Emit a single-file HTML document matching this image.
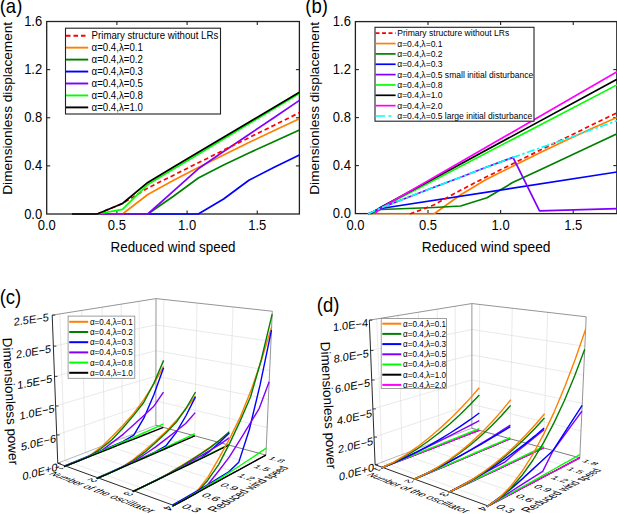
<!DOCTYPE html>
<html><head><meta charset="utf-8"><style>
html,body{margin:0;padding:0;background:#fff;width:617px;height:514px;overflow:hidden}
svg{display:block}
text{font-family:"Liberation Sans",sans-serif}
</style></head><body>
<svg width="617" height="514" viewBox="0 0 617 514" font-family="Liberation Sans, sans-serif">
<rect width="617" height="514" fill="#fff"/>
<rect x="46.7" y="21.5" width="252.7" height="192.5" fill="none" stroke="#222" stroke-width="1.3"/>
<line x1="116.89" y1="214.0" x2="116.89" y2="210.5" stroke="#222" stroke-width="1.1"/>
<line x1="116.89" y1="21.5" x2="116.89" y2="25.0" stroke="#222" stroke-width="1.1"/>
<line x1="187.09" y1="214.0" x2="187.09" y2="210.5" stroke="#222" stroke-width="1.1"/>
<line x1="187.09" y1="21.5" x2="187.09" y2="25.0" stroke="#222" stroke-width="1.1"/>
<line x1="257.28" y1="214.0" x2="257.28" y2="210.5" stroke="#222" stroke-width="1.1"/>
<line x1="257.28" y1="21.5" x2="257.28" y2="25.0" stroke="#222" stroke-width="1.1"/>
<line x1="46.7" y1="165.88" x2="50.2" y2="165.88" stroke="#222" stroke-width="1.1"/>
<line x1="299.4" y1="165.88" x2="295.9" y2="165.88" stroke="#222" stroke-width="1.1"/>
<line x1="46.7" y1="117.75" x2="50.2" y2="117.75" stroke="#222" stroke-width="1.1"/>
<line x1="299.4" y1="117.75" x2="295.9" y2="117.75" stroke="#222" stroke-width="1.1"/>
<line x1="46.7" y1="69.62" x2="50.2" y2="69.62" stroke="#222" stroke-width="1.1"/>
<line x1="299.4" y1="69.62" x2="295.9" y2="69.62" stroke="#222" stroke-width="1.1"/>
<text transform="translate(46.70,230.20) scale(1,1.07)" font-size="13" text-anchor="middle" fill="#000" >0.0</text>
<text transform="translate(116.89,230.20) scale(1,1.07)" font-size="13" text-anchor="middle" fill="#000" >0.5</text>
<text transform="translate(187.09,230.20) scale(1,1.07)" font-size="13" text-anchor="middle" fill="#000" >1.0</text>
<text transform="translate(257.28,230.20) scale(1,1.07)" font-size="13" text-anchor="middle" fill="#000" >1.5</text>
<text transform="translate(42.20,218.60) scale(1,1.07)" font-size="13" text-anchor="end" fill="#000" >0.0</text>
<text transform="translate(42.20,170.47) scale(1,1.07)" font-size="13" text-anchor="end" fill="#000" >0.4</text>
<text transform="translate(42.20,122.35) scale(1,1.07)" font-size="13" text-anchor="end" fill="#000" >0.8</text>
<text transform="translate(42.20,74.22) scale(1,1.07)" font-size="13" text-anchor="end" fill="#000" >1.2</text>
<text transform="translate(42.20,26.10) scale(1,1.07)" font-size="13" text-anchor="end" fill="#000" >1.6</text>
<text transform="translate(173.05,252.00) scale(1,1.07)" font-size="13.4" text-anchor="middle" fill="#000" >Reduced wind speed</text>
<text transform="translate(12.10,108.3) scale(1,1.07) rotate(-90)" font-size="12.76" text-anchor="middle">Dimensionless displacement</text>
<text transform="translate(-0.30,13.00) scale(1,1.07)" font-size="18.5" text-anchor="start" fill="#000" >(a)</text>
<clipPath id="ca"><rect x="46.7" y="21.5" width="252.7" height="193.5"/></clipPath>
<g clip-path="url(#ca)">
<polyline points="97.20,214.00 198.30,214.00 223.60,199.00 248.90,180.30 274.20,167.20 299.40,155.00" fill="none" stroke="#0000ff" stroke-width="1.7" stroke-linejoin="round" />
<polyline points="122.50,214.00 147.80,214.00 173.10,196.50 198.30,178.00 223.60,165.00 248.90,153.00 274.20,141.50 299.40,129.90" fill="none" stroke="#008000" stroke-width="1.7" stroke-linejoin="round" />
<polyline points="97.20,214.00 122.50,214.00 147.80,194.50 173.10,180.50 198.30,167.50 223.60,155.00 248.90,142.50 274.20,130.50 299.40,118.70" fill="none" stroke="#ff8000" stroke-width="1.7" stroke-linejoin="round" />
<polyline points="97.20,214.00 147.80,214.00 173.10,191.30 198.30,168.80 223.60,151.50 248.90,134.50 274.20,117.50 299.40,100.40" fill="none" stroke="#8000ff" stroke-width="1.7" stroke-linejoin="round" />
<polyline points="97.20,214.00 122.50,203.50 147.80,188.00 173.10,175.40 198.30,162.80 223.60,150.20 248.90,137.70 274.20,125.20 299.40,112.70" fill="none" stroke="#ff0000" stroke-width="1.7" stroke-linejoin="round" stroke-dasharray="4.5,3" />
<polyline points="97.20,214.00 122.50,209.30 147.80,184.40 173.10,169.30 198.30,154.20 223.60,139.00 248.90,123.80 274.20,108.60 299.40,93.50" fill="none" stroke="#00ff00" stroke-width="1.7" stroke-linejoin="round" />
<polyline points="72.00,214.00 97.20,214.00 122.50,203.50 147.80,182.40 173.10,167.30 198.30,152.20 223.60,137.20 248.90,122.20 274.20,107.20 299.40,92.30" fill="none" stroke="#000000" stroke-width="1.7" stroke-linejoin="round" />
</g>
<rect x="65.5" y="28.2" width="155" height="85.8" fill="#fff" stroke="#222" stroke-width="1.1"/>
<polyline points="66.00,35.70 88.20,35.70" fill="none" stroke="#ff0000" stroke-width="1.9" stroke-linejoin="round" stroke-dasharray="4.5,3" />
<text transform="translate(91.60,39.10) scale(1,1.07)" font-size="9.66" text-anchor="start" fill="#000" >Primary structure without LRs</text>
<polyline points="66.00,47.65 88.20,47.65" fill="none" stroke="#ff8000" stroke-width="1.9" stroke-linejoin="round" />
<text transform="translate(91.60,51.05) scale(1,1.07)" font-size="9.66" text-anchor="start" fill="#000" >α=0.4,λ=0.1</text>
<polyline points="66.00,59.60 88.20,59.60" fill="none" stroke="#008000" stroke-width="1.9" stroke-linejoin="round" />
<text transform="translate(91.60,63.00) scale(1,1.07)" font-size="9.66" text-anchor="start" fill="#000" >α=0.4,λ=0.2</text>
<polyline points="66.00,71.55 88.20,71.55" fill="none" stroke="#0000ff" stroke-width="1.9" stroke-linejoin="round" />
<text transform="translate(91.60,74.95) scale(1,1.07)" font-size="9.66" text-anchor="start" fill="#000" >α=0.4,λ=0.3</text>
<polyline points="66.00,83.50 88.20,83.50" fill="none" stroke="#8000ff" stroke-width="1.9" stroke-linejoin="round" />
<text transform="translate(91.60,86.90) scale(1,1.07)" font-size="9.66" text-anchor="start" fill="#000" >α=0.4,λ=0.5</text>
<polyline points="66.00,95.45 88.20,95.45" fill="none" stroke="#00ff00" stroke-width="1.9" stroke-linejoin="round" />
<text transform="translate(91.60,98.85) scale(1,1.07)" font-size="9.66" text-anchor="start" fill="#000" >α=0.4,λ=0.8</text>
<polyline points="66.00,107.40 88.20,107.40" fill="none" stroke="#000000" stroke-width="1.9" stroke-linejoin="round" />
<text transform="translate(91.60,110.80) scale(1,1.07)" font-size="9.66" text-anchor="start" fill="#000" >α=0.4,λ=1.0</text>
<rect x="355.4" y="21.6" width="261.4" height="192.0" fill="none" stroke="#222" stroke-width="1.3"/>
<line x1="428.01" y1="213.6" x2="428.01" y2="210.1" stroke="#222" stroke-width="1.1"/>
<line x1="428.01" y1="21.6" x2="428.01" y2="25.1" stroke="#222" stroke-width="1.1"/>
<line x1="500.62" y1="213.6" x2="500.62" y2="210.1" stroke="#222" stroke-width="1.1"/>
<line x1="500.62" y1="21.6" x2="500.62" y2="25.1" stroke="#222" stroke-width="1.1"/>
<line x1="573.23" y1="213.6" x2="573.23" y2="210.1" stroke="#222" stroke-width="1.1"/>
<line x1="573.23" y1="21.6" x2="573.23" y2="25.1" stroke="#222" stroke-width="1.1"/>
<line x1="355.4" y1="165.60" x2="358.9" y2="165.60" stroke="#222" stroke-width="1.1"/>
<line x1="616.8" y1="165.60" x2="613.3" y2="165.60" stroke="#222" stroke-width="1.1"/>
<line x1="355.4" y1="117.60" x2="358.9" y2="117.60" stroke="#222" stroke-width="1.1"/>
<line x1="616.8" y1="117.60" x2="613.3" y2="117.60" stroke="#222" stroke-width="1.1"/>
<line x1="355.4" y1="69.60" x2="358.9" y2="69.60" stroke="#222" stroke-width="1.1"/>
<line x1="616.8" y1="69.60" x2="613.3" y2="69.60" stroke="#222" stroke-width="1.1"/>
<text transform="translate(355.40,229.80) scale(1,1.07)" font-size="13" text-anchor="middle" fill="#000" >0.0</text>
<text transform="translate(428.01,229.80) scale(1,1.07)" font-size="13" text-anchor="middle" fill="#000" >0.5</text>
<text transform="translate(500.62,229.80) scale(1,1.07)" font-size="13" text-anchor="middle" fill="#000" >1.0</text>
<text transform="translate(573.23,229.80) scale(1,1.07)" font-size="13" text-anchor="middle" fill="#000" >1.5</text>
<text transform="translate(350.90,218.20) scale(1,1.07)" font-size="13" text-anchor="end" fill="#000" >0.0</text>
<text transform="translate(350.90,170.20) scale(1,1.07)" font-size="13" text-anchor="end" fill="#000" >0.4</text>
<text transform="translate(350.90,122.20) scale(1,1.07)" font-size="13" text-anchor="end" fill="#000" >0.8</text>
<text transform="translate(350.90,74.20) scale(1,1.07)" font-size="13" text-anchor="end" fill="#000" >1.2</text>
<text transform="translate(350.90,26.20) scale(1,1.07)" font-size="13" text-anchor="end" fill="#000" >1.6</text>
<text transform="translate(486.10,251.60) scale(1,1.07)" font-size="13.8" text-anchor="middle" fill="#000" >Reduced wind speed</text>
<text transform="translate(318.50,108.3) scale(1,1.07) rotate(-90)" font-size="12.76" text-anchor="middle">Dimensionless displacement</text>
<text transform="translate(305.30,13.00) scale(1,1.07)" font-size="18.5" text-anchor="start" fill="#000" >(b)</text>
<clipPath id="cb"><rect x="355.4" y="21.6" width="263.4" height="193.0"/></clipPath>
<g clip-path="url(#cb)">
<polyline points="370.00,214.00 433.80,214.00 460.00,195.30 486.10,179.60 512.20,166.50 538.40,153.50 564.50,141.00 590.70,129.00 616.80,117.50" fill="none" stroke="#ff8000" stroke-width="1.7" stroke-linejoin="round" />
<polyline points="368.00,214.00 380.80,209.50 433.80,207.50 460.60,206.00 487.00,197.80 512.60,182.60 538.70,170.40 564.80,158.20 590.90,146.00 617.00,133.70" fill="none" stroke="#008000" stroke-width="1.7" stroke-linejoin="round" />
<polyline points="368.00,214.00 380.80,208.50 617.00,172.00" fill="none" stroke="#0000ff" stroke-width="1.7" stroke-linejoin="round" />
<polyline points="410.00,214.00 433.80,205.00 460.00,190.50 486.10,177.00 512.20,164.00 538.40,151.00 564.50,138.50 590.70,125.50 616.80,112.90" fill="none" stroke="#ff0000" stroke-width="1.7" stroke-linejoin="round" stroke-dasharray="4.5,3" />
<polyline points="370.30,214.00 380.80,208.00 617.00,84.90" fill="none" stroke="#00ff00" stroke-width="1.7" stroke-linejoin="round" />
<polyline points="370.30,214.00 380.80,207.30 617.00,79.30" fill="none" stroke="#000000" stroke-width="1.7" stroke-linejoin="round" />
<polyline points="374.70,214.00 380.80,208.00 617.00,71.80" fill="none" stroke="#ff00ff" stroke-width="1.7" stroke-linejoin="round" />
<polyline points="368.00,214.00 380.80,208.00 430.00,188.70 460.00,177.50 486.10,167.30 513.00,157.40 539.50,210.90 617.00,208.70" fill="none" stroke="#8000ff" stroke-width="1.7" stroke-linejoin="round" />
<polyline points="368.00,214.00 380.80,208.00 430.00,188.70 460.00,177.50 486.10,167.30 513.00,157.40 538.40,148.50 564.50,139.50 590.70,130.00 617.00,120.70" fill="none" stroke="#00ffff" stroke-width="1.7" stroke-linejoin="round" stroke-dasharray="8,2.5,2.5,2.5" />
</g>
<rect x="375" y="27.3" width="159" height="93.9" fill="#fff" stroke="#222" stroke-width="1.1"/>
<polyline points="375.50,33.20 395.60,33.20" fill="none" stroke="#ff0000" stroke-width="1.7" stroke-linejoin="round" stroke-dasharray="4,2.5" />
<text transform="translate(397.20,36.20) scale(1,1.07)" font-size="8.55" text-anchor="start" fill="#000" >Primary structure without LRs</text>
<polyline points="375.50,43.55 395.60,43.55" fill="none" stroke="#ff8000" stroke-width="1.7" stroke-linejoin="round" />
<text transform="translate(397.20,46.55) scale(1,1.07)" font-size="8.55" text-anchor="start" fill="#000" >α=0.4,λ=0.1</text>
<polyline points="375.50,53.90 395.60,53.90" fill="none" stroke="#008000" stroke-width="1.7" stroke-linejoin="round" />
<text transform="translate(397.20,56.90) scale(1,1.07)" font-size="8.55" text-anchor="start" fill="#000" >α=0.4,λ=0.2</text>
<polyline points="375.50,64.25 395.60,64.25" fill="none" stroke="#0000ff" stroke-width="1.7" stroke-linejoin="round" />
<text transform="translate(397.20,67.25) scale(1,1.07)" font-size="8.55" text-anchor="start" fill="#000" >α=0.4,λ=0.3</text>
<polyline points="375.50,74.60 395.60,74.60" fill="none" stroke="#8000ff" stroke-width="1.7" stroke-linejoin="round" />
<text transform="translate(397.20,77.60) scale(1,1.07)" font-size="8.55" text-anchor="start" fill="#000" >α=0.4,λ=0.5 small initial disturbance</text>
<polyline points="375.50,84.95 395.60,84.95" fill="none" stroke="#00ff00" stroke-width="1.7" stroke-linejoin="round" />
<text transform="translate(397.20,87.95) scale(1,1.07)" font-size="8.55" text-anchor="start" fill="#000" >α=0.4,λ=0.8</text>
<polyline points="375.50,95.30 395.60,95.30" fill="none" stroke="#000000" stroke-width="1.7" stroke-linejoin="round" />
<text transform="translate(397.20,98.30) scale(1,1.07)" font-size="8.55" text-anchor="start" fill="#000" >α=0.4,λ=1.0</text>
<polyline points="375.50,105.65 395.60,105.65" fill="none" stroke="#ff00ff" stroke-width="1.7" stroke-linejoin="round" />
<text transform="translate(397.20,108.65) scale(1,1.07)" font-size="8.55" text-anchor="start" fill="#000" >α=0.4,λ=2.0</text>
<polyline points="375.50,116.00 395.60,116.00" fill="none" stroke="#00ffff" stroke-width="1.7" stroke-linejoin="round" stroke-dasharray="9.5,3.5,3,10" />
<text transform="translate(397.20,119.00) scale(1,1.07)" font-size="8.55" text-anchor="start" fill="#000" >α=0.4,λ=0.5 large initial disturbance</text>
<polyline points="64.90,460.46 59.80,313.92" fill="none" stroke="#dadada" stroke-width="0.6" stroke-linejoin="round" />
<polyline points="64.90,460.46 180.65,501.73" fill="none" stroke="#dadada" stroke-width="0.6" stroke-linejoin="round" />
<polyline points="85.39,452.55 81.60,310.45" fill="none" stroke="#dadada" stroke-width="0.6" stroke-linejoin="round" />
<polyline points="85.39,452.55 200.20,491.03" fill="none" stroke="#dadada" stroke-width="0.6" stroke-linejoin="round" />
<polyline points="104.63,445.12 102.01,307.21" fill="none" stroke="#dadada" stroke-width="0.6" stroke-linejoin="round" />
<polyline points="104.63,445.12 218.37,481.09" fill="none" stroke="#dadada" stroke-width="0.6" stroke-linejoin="round" />
<polyline points="122.72,438.13 121.13,304.16" fill="none" stroke="#dadada" stroke-width="0.6" stroke-linejoin="round" />
<polyline points="122.72,438.13 235.30,471.83" fill="none" stroke="#dadada" stroke-width="0.6" stroke-linejoin="round" />
<polyline points="139.78,431.55 139.10,301.30" fill="none" stroke="#dadada" stroke-width="0.6" stroke-linejoin="round" />
<polyline points="139.78,431.55 251.11,463.18" fill="none" stroke="#dadada" stroke-width="0.6" stroke-linejoin="round" />
<polyline points="163.36,427.36 163.87,299.47" fill="none" stroke="#dadada" stroke-width="0.6" stroke-linejoin="round" />
<polyline points="65.49,466.02 163.36,427.36" fill="none" stroke="#dadada" stroke-width="0.6" stroke-linejoin="round" />
<polyline points="194.82,435.86 196.99,303.06" fill="none" stroke="#dadada" stroke-width="0.6" stroke-linejoin="round" />
<polyline points="98.18,477.93 194.82,435.86" fill="none" stroke="#dadada" stroke-width="0.6" stroke-linejoin="round" />
<polyline points="228.89,445.07 233.00,306.96" fill="none" stroke="#dadada" stroke-width="0.6" stroke-linejoin="round" />
<polyline points="134.12,491.03 228.89,445.07" fill="none" stroke="#dadada" stroke-width="0.6" stroke-linejoin="round" />
<polyline points="56.70,434.92 155.90,400.95" fill="none" stroke="#dadada" stroke-width="0.6" stroke-linejoin="round" />
<polyline points="155.90,400.95 267.13,427.55" fill="none" stroke="#dadada" stroke-width="0.6" stroke-linejoin="round" />
<polyline points="55.61,405.99 155.92,376.10" fill="none" stroke="#dadada" stroke-width="0.6" stroke-linejoin="round" />
<polyline points="155.92,376.10 268.38,399.43" fill="none" stroke="#dadada" stroke-width="0.6" stroke-linejoin="round" />
<polyline points="54.50,376.40 155.95,350.77" fill="none" stroke="#dadada" stroke-width="0.6" stroke-linejoin="round" />
<polyline points="155.95,350.77 269.66,370.68" fill="none" stroke="#dadada" stroke-width="0.6" stroke-linejoin="round" />
<polyline points="53.36,346.12 155.98,324.95" fill="none" stroke="#dadada" stroke-width="0.6" stroke-linejoin="round" />
<polyline points="155.98,324.95 270.96,341.29" fill="none" stroke="#dadada" stroke-width="0.6" stroke-linejoin="round" />
<polyline points="52.19,315.13 156.01,298.61" fill="none" stroke="#7a7a7a" stroke-width="0.8" stroke-linejoin="round" />
<polyline points="156.01,298.61 272.30,311.22" fill="none" stroke="#7a7a7a" stroke-width="0.8" stroke-linejoin="round" />
<polyline points="156.01,298.61 155.87,425.34" fill="none" stroke="#8a8a8a" stroke-width="0.9" stroke-linejoin="round" />
<polyline points="272.30,311.22 265.91,455.08" fill="none" stroke="#7a7a7a" stroke-width="0.8" stroke-linejoin="round" />
<polyline points="57.77,463.21 155.87,425.34" fill="none" stroke="#9a9a9a" stroke-width="0.7" stroke-linejoin="round" />
<polyline points="155.87,425.34 265.91,455.08" fill="none" stroke="#5a5a5a" stroke-width="0.8" stroke-linejoin="round" />
<polyline points="57.77,463.21 52.19,315.13" fill="none" stroke="#111" stroke-width="0.9" stroke-linejoin="round" />
<polyline points="57.77,463.21 173.80,505.48" fill="none" stroke="#111" stroke-width="0.9" stroke-linejoin="round" />
<polyline points="173.80,505.48 265.91,455.08" fill="none" stroke="#111" stroke-width="0.9" stroke-linejoin="round" />
<polyline points="57.77,463.21 60.77,463.21" fill="none" stroke="#111" stroke-width="0.8" stroke-linejoin="round" />
<polyline points="56.70,434.92 59.70,434.92" fill="none" stroke="#111" stroke-width="0.8" stroke-linejoin="round" />
<polyline points="55.61,405.99 58.61,405.99" fill="none" stroke="#111" stroke-width="0.8" stroke-linejoin="round" />
<polyline points="54.50,376.40 57.50,376.40" fill="none" stroke="#111" stroke-width="0.8" stroke-linejoin="round" />
<polyline points="53.36,346.12 56.36,346.12" fill="none" stroke="#111" stroke-width="0.8" stroke-linejoin="round" />
<polyline points="52.19,315.13 55.19,315.13" fill="none" stroke="#111" stroke-width="0.8" stroke-linejoin="round" />
<rect x="68.1" y="316.1" width="66.70000000000002" height="62.19999999999999" fill="#fff" stroke="#888" stroke-width="0.8"/>
<polyline points="69.20,321.80 88.20,321.80" fill="none" stroke="#ff8000" stroke-width="2.0" stroke-linejoin="round" />
<text transform="translate(89.90,324.70) scale(1,1.07)" font-size="8.1" text-anchor="start" fill="#000" >α=0.4,λ=0.1</text>
<polyline points="69.20,332.00 88.20,332.00" fill="none" stroke="#008000" stroke-width="2.0" stroke-linejoin="round" />
<text transform="translate(89.90,334.90) scale(1,1.07)" font-size="8.1" text-anchor="start" fill="#000" >α=0.4,λ=0.2</text>
<polyline points="69.20,342.20 88.20,342.20" fill="none" stroke="#0000ff" stroke-width="2.0" stroke-linejoin="round" />
<text transform="translate(89.90,345.10) scale(1,1.07)" font-size="8.1" text-anchor="start" fill="#000" >α=0.4,λ=0.3</text>
<polyline points="69.20,352.40 88.20,352.40" fill="none" stroke="#8000ff" stroke-width="2.0" stroke-linejoin="round" />
<text transform="translate(89.90,355.30) scale(1,1.07)" font-size="8.1" text-anchor="start" fill="#000" >α=0.4,λ=0.5</text>
<polyline points="69.20,362.60 88.20,362.60" fill="none" stroke="#00ff00" stroke-width="2.0" stroke-linejoin="round" />
<text transform="translate(89.90,365.50) scale(1,1.07)" font-size="8.1" text-anchor="start" fill="#000" >α=0.4,λ=0.8</text>
<polyline points="69.20,372.80 88.20,372.80" fill="none" stroke="#000000" stroke-width="2.0" stroke-linejoin="round" />
<text transform="translate(89.90,375.70) scale(1,1.07)" font-size="8.1" text-anchor="start" fill="#000" >α=0.4,λ=1.0</text>
<polyline points="64.05,466.59 76.81,461.55 89.08,456.15 100.81,447.38 112.10,436.50 123.03,425.28 133.62,413.44 143.88,399.61 153.87,383.86 163.61,366.25" fill="none" stroke="#ff8000" stroke-width="1.4" stroke-linejoin="round" />
<polyline points="64.05,466.59 76.81,461.55 89.09,456.70 100.84,448.76 112.15,439.47 123.06,427.72 133.63,415.35 143.89,402.30 153.87,383.22 163.63,360.36" fill="none" stroke="#008000" stroke-width="1.4" stroke-linejoin="round" />
<polyline points="64.03,466.03 76.80,460.92 89.07,455.90 100.88,450.97 112.26,446.15 123.22,441.43 133.78,435.20 143.95,417.92 153.86,394.72 163.60,367.78" fill="none" stroke="#0000ff" stroke-width="1.4" stroke-linejoin="round" />
<polyline points="64.05,466.59 76.81,461.55 89.09,456.70 100.88,450.95 112.20,442.65 123.14,434.33 133.70,424.78 143.94,415.49 153.86,406.21 163.50,392.04" fill="none" stroke="#8000ff" stroke-width="1.4" stroke-linejoin="round" />
<polyline points="64.05,466.59 76.81,461.47 89.09,456.44 100.90,451.51 112.27,446.68 123.23,441.95 133.80,437.31 144.00,432.76 153.85,428.31 163.38,423.94" fill="none" stroke="#00ff00" stroke-width="1.4" stroke-linejoin="round" />
<polyline points="64.05,466.59 76.81,461.55 89.09,456.70 100.91,452.03 112.28,447.54 123.24,443.21 133.81,439.03 144.01,435.01 153.85,431.12 163.36,427.36" fill="none" stroke="#000000" stroke-width="1.4" stroke-linejoin="round" />
<polyline points="96.75,478.56 109.44,473.03 121.61,467.37 133.29,459.56 144.53,450.45 155.38,441.20 165.87,431.63 176.03,420.85 185.89,408.90 195.48,395.84" fill="none" stroke="#ff8000" stroke-width="1.4" stroke-linejoin="round" />
<polyline points="96.75,478.56 109.44,473.03 121.62,467.73 133.30,460.47 144.54,452.41 155.38,442.81 165.87,432.89 176.01,422.61 185.89,408.48 195.54,392.02" fill="none" stroke="#008000" stroke-width="1.4" stroke-linejoin="round" />
<polyline points="96.74,478.18 109.43,472.62 121.61,467.20 133.31,461.94 144.55,456.83 155.38,451.86 165.80,445.97 175.92,432.87 185.80,416.00 195.46,396.84" fill="none" stroke="#0000ff" stroke-width="1.4" stroke-linejoin="round" />
<polyline points="96.75,478.56 109.44,473.03 121.62,467.73 133.31,461.93 144.55,454.51 155.38,447.17 165.84,439.09 175.94,431.27 185.70,423.53 195.20,412.65" fill="none" stroke="#8000ff" stroke-width="1.4" stroke-linejoin="round" />
<polyline points="96.75,478.56 109.44,472.99 121.61,467.56 133.31,462.30 144.56,457.18 155.38,452.20 165.79,447.36 175.83,442.66 185.52,438.07 194.86,433.61" fill="none" stroke="#00ff00" stroke-width="1.4" stroke-linejoin="round" />
<polyline points="96.75,478.56 109.44,473.03 121.62,467.73 133.31,462.64 144.56,457.75 155.37,453.04 165.79,448.50 175.82,444.14 185.49,439.93 194.82,435.86" fill="none" stroke="#000000" stroke-width="1.4" stroke-linejoin="round" />
<polyline points="132.70,491.71 145.23,485.64 157.23,479.71 168.75,473.28 179.80,466.62 190.44,460.09 200.67,453.60 210.53,446.88 220.06,439.95 229.26,432.82" fill="none" stroke="#ff8000" stroke-width="1.4" stroke-linejoin="round" />
<polyline points="132.70,491.71 145.23,485.64 157.23,479.82 168.74,473.57 179.80,467.23 190.43,460.58 200.66,453.98 210.52,447.42 220.06,439.82 229.29,431.66" fill="none" stroke="#008000" stroke-width="1.4" stroke-linejoin="round" />
<polyline points="132.70,491.60 145.23,485.51 157.23,479.65 168.74,474.02 179.78,468.60 190.39,463.38 200.59,458.02 210.45,450.57 220.00,442.12 229.25,433.12" fill="none" stroke="#0000ff" stroke-width="1.4" stroke-linejoin="round" />
<polyline points="132.70,491.71 145.23,485.64 157.23,479.82 168.74,474.02 179.79,467.88 190.41,461.93 200.63,455.89 210.46,450.08 219.94,444.42 229.10,437.93" fill="none" stroke="#8000ff" stroke-width="1.4" stroke-linejoin="round" />
<polyline points="132.70,491.71 145.23,485.62 157.23,479.77 168.74,474.13 179.78,468.71 190.39,463.49 200.58,458.45 210.38,453.59 219.82,448.90 228.91,444.38" fill="none" stroke="#00ff00" stroke-width="1.4" stroke-linejoin="round" />
<polyline points="132.70,491.71 145.23,485.64 157.23,479.82 168.74,474.24 179.78,468.89 190.38,463.75 200.57,458.80 210.37,454.05 219.81,449.48 228.89,445.07" fill="none" stroke="#000000" stroke-width="1.4" stroke-linejoin="round" />
<polyline points="172.41,506.24 184.68,499.53 196.43,491.98 207.84,477.32 218.97,458.18 229.79,438.24 240.35,416.83 250.80,391.11 261.20,361.10 271.61,326.84" fill="none" stroke="#ff8000" stroke-width="1.4" stroke-linejoin="round" />
<polyline points="172.41,506.24 184.68,499.53 196.41,493.11 207.78,480.18 218.81,464.38 229.63,443.33 240.21,420.86 250.59,396.79 261.26,359.73 272.17,314.13" fill="none" stroke="#008000" stroke-width="1.4" stroke-linejoin="round" />
<polyline points="172.42,505.06 184.70,498.22 196.44,491.45 207.68,484.78 218.45,478.22 228.78,471.78 238.81,462.14 249.36,429.53 260.25,384.15 271.46,330.13" fill="none" stroke="#0000ff" stroke-width="1.4" stroke-linejoin="round" />
<polyline points="172.41,506.24 184.68,499.53 196.41,493.11 207.68,484.74 218.64,470.98 229.22,457.09 239.55,440.56 249.55,424.47 259.26,408.31 269.16,381.77" fill="none" stroke="#8000ff" stroke-width="1.4" stroke-linejoin="round" />
<polyline points="172.41,506.24 184.68,499.37 196.42,492.58 207.65,485.89 218.42,479.32 228.75,472.85 238.67,466.50 248.20,460.26 257.38,454.12 266.22,448.08" fill="none" stroke="#00ff00" stroke-width="1.4" stroke-linejoin="round" />
<polyline points="172.41,506.24 184.68,499.53 196.41,493.11 207.63,486.97 218.37,481.09 228.67,475.46 238.55,470.05 248.03,464.86 257.14,459.87 265.91,455.08" fill="none" stroke="#000000" stroke-width="1.4" stroke-linejoin="round" />
<text transform="translate(40.0,471.6) skewY(-16.0)" font-size="11" text-anchor="middle" y="3.9">0.0E+0</text>
<text transform="translate(38.5,442.5) skewY(-14.4)" font-size="11" text-anchor="middle" y="3.9">5.0E−6</text>
<text transform="translate(37.0,412.1) skewY(-12.8)" font-size="11" text-anchor="middle" y="3.9">1.0E−5</text>
<text transform="translate(34.9,381.8) skewY(-11.2)" font-size="11" text-anchor="middle" y="3.9">1.5E−5</text>
<text transform="translate(33.6,351.6) skewY(-9.6)" font-size="11" text-anchor="middle" y="3.9">2.0E−5</text>
<text transform="translate(31.2,319.5) skewY(-8.0)" font-size="11" text-anchor="middle" y="3.9">2.5E−5</text>
<text transform="translate(-0.30,304.40) scale(1,1.07)" font-size="18.5" text-anchor="start" fill="#000" >(c)</text>
<text transform="translate(2.5,338.0) rotate(87)" font-size="13.4">Dimensionless power</text>
<text transform="matrix(-0.9543,0.3737,-0.8251,-0.3034,59.47,466.12)" font-size="10" fill="#000">1</text>
<text transform="matrix(-0.9499,0.4095,-0.9049,-0.3327,91.89,478.04)" font-size="10" fill="#000">2</text>
<text transform="matrix(-0.9399,0.4508,-0.9968,-0.3665,127.53,491.15)" font-size="10" fill="#000">3</text>
<text transform="matrix(-0.9225,0.4987,-1.1035,-0.4057,166.89,505.62)" font-size="10" fill="#000">4</text>
<text transform="matrix(1.1284,0.4100,-0.9042,0.5039,180.56,507.13)" font-size="10" fill="#000">0</text>
<text transform="matrix(1.1462,0.4164,-0.9005,0.5118,186.89,509.43)" font-size="10" fill="#000">.</text>
<text transform="matrix(1.1552,0.4197,-0.8985,0.5158,190.08,510.59)" font-size="10" fill="#000">3</text>
<text transform="matrix(1.1131,0.3798,-0.8380,0.4670,200.47,496.04)" font-size="10" fill="#000">0</text>
<text transform="matrix(1.1300,0.3855,-0.8340,0.4740,206.70,498.17)" font-size="10" fill="#000">.</text>
<text transform="matrix(1.1385,0.3884,-0.8320,0.4776,209.85,499.24)" font-size="10" fill="#000">6</text>
<text transform="matrix(1.0970,0.3528,-0.7788,0.4340,218.94,485.75)" font-size="10" fill="#000">0</text>
<text transform="matrix(1.1130,0.3579,-0.7747,0.4403,225.08,487.72)" font-size="10" fill="#000">.</text>
<text transform="matrix(1.1211,0.3605,-0.7726,0.4435,228.19,488.72)" font-size="10" fill="#000">9</text>
<text transform="matrix(1.0805,0.3285,-0.7256,0.4044,236.13,476.17)" font-size="10" fill="#000">1</text>
<text transform="matrix(1.0957,0.3331,-0.7215,0.4100,242.18,478.01)" font-size="10" fill="#000">.</text>
<text transform="matrix(1.1034,0.3355,-0.7193,0.4129,245.23,478.94)" font-size="10" fill="#000">2</text>
<text transform="matrix(1.0636,0.3067,-0.6778,0.3777,252.16,467.23)" font-size="10" fill="#000">1</text>
<text transform="matrix(1.0781,0.3108,-0.6735,0.3828,258.12,468.95)" font-size="10" fill="#000">.</text>
<text transform="matrix(1.0854,0.3130,-0.6714,0.3854,261.12,469.81)" font-size="10" fill="#000">5</text>
<text transform="matrix(1.0466,0.2869,-0.6345,0.3536,267.16,458.87)" font-size="10" fill="#000">1</text>
<text transform="matrix(1.0604,0.2907,-0.6302,0.3582,273.02,460.48)" font-size="10" fill="#000">.</text>
<text transform="matrix(1.0673,0.2926,-0.6281,0.3605,275.97,461.29)" font-size="10" fill="#000">8</text>
<text transform="matrix(0.8375,0.3230,-1.0013,0.3977,48.35,474.23)" font-size="10" fill="#000">N</text>
<text transform="matrix(0.8527,0.3289,-1.0011,0.4049,54.45,476.58)" font-size="10" fill="#000">u</text>
<text transform="matrix(0.8647,0.3335,-1.0008,0.4105,59.23,478.43)" font-size="10" fill="#000">m</text>
<text transform="matrix(0.8832,0.3406,-1.0002,0.4192,66.51,481.23)" font-size="10" fill="#000">b</text>
<text transform="matrix(0.8958,0.3455,-0.9996,0.4252,71.45,483.14)" font-size="10" fill="#000">e</text>
<text transform="matrix(0.9087,0.3505,-0.9989,0.4312,76.47,485.08)" font-size="10" fill="#000">r</text>
<text transform="matrix(0.9232,0.3561,-0.9980,0.4381,82.06,487.24)" font-size="10" fill="#000">o</text>
<text transform="matrix(0.9367,0.3613,-0.9971,0.4445,87.24,489.23)" font-size="10" fill="#000">f</text>
<text transform="matrix(0.9505,0.3666,-0.9960,0.4510,92.48,491.25)" font-size="10" fill="#000">t</text>
<text transform="matrix(0.9575,0.3693,-0.9954,0.4543,95.13,492.28)" font-size="10" fill="#000">h</text>
<text transform="matrix(0.9718,0.3748,-0.9941,0.4610,100.49,494.35)" font-size="10" fill="#000">e</text>
<text transform="matrix(0.9938,0.3833,-0.9919,0.4714,108.69,497.51)" font-size="10" fill="#000">o</text>
<text transform="matrix(1.0089,0.3892,-0.9902,0.4785,114.26,499.65)" font-size="10" fill="#000">s</text>
<text transform="matrix(1.0228,0.3945,-0.9885,0.4850,119.34,501.61)" font-size="10" fill="#000">c</text>
<text transform="matrix(1.0370,0.4000,-0.9867,0.4917,124.49,503.60)" font-size="10" fill="#000">i</text>
<text transform="matrix(1.0434,0.4024,-0.9859,0.4947,126.80,504.49)" font-size="10" fill="#000">l</text>
<text transform="matrix(1.0498,0.4049,-0.9850,0.4977,129.12,505.39)" font-size="10" fill="#000">l</text>
<text transform="matrix(1.0563,0.4074,-0.9841,0.5008,131.46,506.29)" font-size="10" fill="#000">a</text>
<text transform="matrix(1.0729,0.4138,-0.9817,0.5086,137.38,508.57)" font-size="10" fill="#000">t</text>
<text transform="matrix(1.0813,0.4171,-0.9804,0.5126,140.38,509.73)" font-size="10" fill="#000">o</text>
<text transform="matrix(1.0984,0.4237,-0.9777,0.5206,146.44,512.07)" font-size="10" fill="#000">r</text>
<text transform="matrix(0.9239,-0.5608,1.2866,0.4564,215.34,512.53)" font-size="10" fill="#000">R</text>
<text transform="matrix(0.8997,-0.5461,1.2795,0.4443,221.92,508.53)" font-size="10" fill="#000">e</text>
<text transform="matrix(0.8817,-0.5352,1.2740,0.4354,226.88,505.52)" font-size="10" fill="#000">d</text>
<text transform="matrix(0.8642,-0.5245,1.2685,0.4267,231.73,502.58)" font-size="10" fill="#000">u</text>
<text transform="matrix(0.8472,-0.5142,1.2629,0.4182,236.49,499.69)" font-size="10" fill="#000">c</text>
<text transform="matrix(0.8324,-0.5052,1.2579,0.4109,240.69,497.14)" font-size="10" fill="#000">e</text>
<text transform="matrix(0.8163,-0.4955,1.2523,0.4029,245.27,494.36)" font-size="10" fill="#000">d</text>
<text transform="matrix(0.7931,-0.4814,1.2439,0.3914,251.98,490.28)" font-size="10" fill="#000">w</text>
<text transform="matrix(0.7738,-0.4697,1.2366,0.3818,257.64,486.85)" font-size="10" fill="#000">i</text>
<text transform="matrix(0.7680,-0.4662,1.2343,0.3789,259.36,485.81)" font-size="10" fill="#000">n</text>
<text transform="matrix(0.7538,-0.4575,1.2287,0.3718,263.59,483.24)" font-size="10" fill="#000">d</text>
<text transform="matrix(0.7332,-0.4450,1.2202,0.3616,269.79,479.48)" font-size="10" fill="#000">s</text>
<text transform="matrix(0.7212,-0.4378,1.2151,0.3556,273.42,477.27)" font-size="10" fill="#000">p</text>
<text transform="matrix(0.7083,-0.4299,1.2095,0.3492,277.40,474.86)" font-size="10" fill="#000">e</text>
<text transform="matrix(0.6957,-0.4223,1.2038,0.3429,281.30,472.49)" font-size="10" fill="#000">e</text>
<text transform="matrix(0.6834,-0.4148,1.1982,0.3369,285.14,470.16)" font-size="10" fill="#000">d</text>
<polyline points="382.10,462.07 376.79,318.93" fill="none" stroke="#dadada" stroke-width="0.6" stroke-linejoin="round" />
<polyline points="382.10,462.07 494.93,502.45" fill="none" stroke="#dadada" stroke-width="0.6" stroke-linejoin="round" />
<polyline points="402.20,454.49 398.23,315.46" fill="none" stroke="#dadada" stroke-width="0.6" stroke-linejoin="round" />
<polyline points="402.20,454.49 514.25,492.29" fill="none" stroke="#dadada" stroke-width="0.6" stroke-linejoin="round" />
<polyline points="421.13,447.36 418.35,312.21" fill="none" stroke="#dadada" stroke-width="0.6" stroke-linejoin="round" />
<polyline points="421.13,447.36 532.28,482.81" fill="none" stroke="#dadada" stroke-width="0.6" stroke-linejoin="round" />
<polyline points="438.99,440.63 437.27,309.15" fill="none" stroke="#dadada" stroke-width="0.6" stroke-linejoin="round" />
<polyline points="438.99,440.63 549.14,473.95" fill="none" stroke="#dadada" stroke-width="0.6" stroke-linejoin="round" />
<polyline points="455.87,434.27 455.09,306.27" fill="none" stroke="#dadada" stroke-width="0.6" stroke-linejoin="round" />
<polyline points="455.87,434.27 564.94,465.65" fill="none" stroke="#dadada" stroke-width="0.6" stroke-linejoin="round" />
<polyline points="479.21,430.27 479.65,304.45" fill="none" stroke="#dadada" stroke-width="0.6" stroke-linejoin="round" />
<polyline points="382.67,467.46 479.21,430.27" fill="none" stroke="#dadada" stroke-width="0.6" stroke-linejoin="round" />
<polyline points="510.12,438.75 512.26,308.22" fill="none" stroke="#dadada" stroke-width="0.6" stroke-linejoin="round" />
<polyline points="414.62,479.13 510.12,438.75" fill="none" stroke="#dadada" stroke-width="0.6" stroke-linejoin="round" />
<polyline points="543.54,447.91 547.65,312.32" fill="none" stroke="#dadada" stroke-width="0.6" stroke-linejoin="round" />
<polyline points="449.64,491.92 543.54,447.91" fill="none" stroke="#dadada" stroke-width="0.6" stroke-linejoin="round" />
<polyline points="374.01,437.12 471.85,404.30" fill="none" stroke="#dadada" stroke-width="0.6" stroke-linejoin="round" />
<polyline points="471.85,404.30 581.00,430.91" fill="none" stroke="#dadada" stroke-width="0.6" stroke-linejoin="round" />
<polyline points="372.89,408.90 471.86,379.86" fill="none" stroke="#dadada" stroke-width="0.6" stroke-linejoin="round" />
<polyline points="471.86,379.86 582.26,403.35" fill="none" stroke="#dadada" stroke-width="0.6" stroke-linejoin="round" />
<polyline points="371.73,380.01 471.87,354.94" fill="none" stroke="#dadada" stroke-width="0.6" stroke-linejoin="round" />
<polyline points="471.87,354.94 583.54,375.16" fill="none" stroke="#dadada" stroke-width="0.6" stroke-linejoin="round" />
<polyline points="370.54,350.43 471.89,329.51" fill="none" stroke="#dadada" stroke-width="0.6" stroke-linejoin="round" />
<polyline points="471.89,329.51 584.86,346.32" fill="none" stroke="#dadada" stroke-width="0.6" stroke-linejoin="round" />
<polyline points="369.33,320.14 471.90,303.55" fill="none" stroke="#7a7a7a" stroke-width="0.8" stroke-linejoin="round" />
<polyline points="471.90,303.55 586.20,316.79" fill="none" stroke="#7a7a7a" stroke-width="0.8" stroke-linejoin="round" />
<polyline points="471.90,303.55 471.84,428.25" fill="none" stroke="#8a8a8a" stroke-width="0.9" stroke-linejoin="round" />
<polyline points="586.20,316.79 579.77,457.85" fill="none" stroke="#7a7a7a" stroke-width="0.8" stroke-linejoin="round" />
<polyline points="375.12,464.70 471.84,428.25" fill="none" stroke="#9a9a9a" stroke-width="0.7" stroke-linejoin="round" />
<polyline points="471.84,428.25 579.77,457.85" fill="none" stroke="#5a5a5a" stroke-width="0.8" stroke-linejoin="round" />
<polyline points="375.12,464.70 369.33,320.14" fill="none" stroke="#111" stroke-width="0.9" stroke-linejoin="round" />
<polyline points="375.12,464.70 488.17,506.00" fill="none" stroke="#111" stroke-width="0.9" stroke-linejoin="round" />
<polyline points="488.17,506.00 579.77,457.85" fill="none" stroke="#111" stroke-width="0.9" stroke-linejoin="round" />
<polyline points="375.12,464.70 378.12,464.70" fill="none" stroke="#111" stroke-width="0.8" stroke-linejoin="round" />
<polyline points="374.01,437.12 377.01,437.12" fill="none" stroke="#111" stroke-width="0.8" stroke-linejoin="round" />
<polyline points="372.89,408.90 375.89,408.90" fill="none" stroke="#111" stroke-width="0.8" stroke-linejoin="round" />
<polyline points="371.73,380.01 374.73,380.01" fill="none" stroke="#111" stroke-width="0.8" stroke-linejoin="round" />
<polyline points="370.54,350.43 373.54,350.43" fill="none" stroke="#111" stroke-width="0.8" stroke-linejoin="round" />
<polyline points="369.33,320.14 372.33,320.14" fill="none" stroke="#111" stroke-width="0.8" stroke-linejoin="round" />
<rect x="381.2" y="318.4" width="65.30000000000001" height="70.20000000000005" fill="#fff" stroke="#888" stroke-width="0.8"/>
<polyline points="382.30,323.70 401.30,323.70" fill="none" stroke="#ff8000" stroke-width="2.0" stroke-linejoin="round" />
<text transform="translate(403.00,326.60) scale(1,1.07)" font-size="8.1" text-anchor="start" fill="#000" >α=0.4,λ=0.1</text>
<polyline points="382.30,333.90 401.30,333.90" fill="none" stroke="#008000" stroke-width="2.0" stroke-linejoin="round" />
<text transform="translate(403.00,336.80) scale(1,1.07)" font-size="8.1" text-anchor="start" fill="#000" >α=0.4,λ=0.2</text>
<polyline points="382.30,344.10 401.30,344.10" fill="none" stroke="#0000ff" stroke-width="2.0" stroke-linejoin="round" />
<text transform="translate(403.00,347.00) scale(1,1.07)" font-size="8.1" text-anchor="start" fill="#000" >α=0.4,λ=0.3</text>
<polyline points="382.30,354.30 401.30,354.30" fill="none" stroke="#8000ff" stroke-width="2.0" stroke-linejoin="round" />
<text transform="translate(403.00,357.20) scale(1,1.07)" font-size="8.1" text-anchor="start" fill="#000" >α=0.4,λ=0.5</text>
<polyline points="382.30,364.50 401.30,364.50" fill="none" stroke="#00ff00" stroke-width="2.0" stroke-linejoin="round" />
<text transform="translate(403.00,367.40) scale(1,1.07)" font-size="8.1" text-anchor="start" fill="#000" >α=0.4,λ=0.8</text>
<polyline points="382.30,374.70 401.30,374.70" fill="none" stroke="#000000" stroke-width="2.0" stroke-linejoin="round" />
<text transform="translate(403.00,377.60) scale(1,1.07)" font-size="8.1" text-anchor="start" fill="#000" >α=0.4,λ=1.0</text>
<polyline points="382.30,384.90 401.30,384.90" fill="none" stroke="#ff00ff" stroke-width="2.0" stroke-linejoin="round" />
<text transform="translate(403.00,387.80) scale(1,1.07)" font-size="8.1" text-anchor="start" fill="#000" >α=0.4,λ=2.0</text>
<polyline points="381.26,468.00 393.77,463.18 405.82,458.54 417.43,454.07 428.64,449.75 439.46,445.59 449.90,441.56 460.00,437.67 469.76,433.91 479.21,430.27" fill="none" stroke="#000000" stroke-width="1.4" stroke-linejoin="round" />
<polyline points="381.26,468.00 393.77,463.18 405.82,458.54 417.43,454.07 428.64,449.75 439.46,445.59 449.90,441.56 460.00,437.67 469.76,433.91 479.21,430.27" fill="none" stroke="#ff00ff" stroke-width="1.4" stroke-linejoin="round" />
<polyline points="381.26,468.00 393.76,462.97 405.81,458.13 417.42,453.46 428.63,448.95 439.44,444.60 449.89,440.39 459.99,436.33 469.76,432.40 479.21,428.60" fill="none" stroke="#00ff00" stroke-width="1.4" stroke-linejoin="round" />
<polyline points="381.26,468.00 393.75,462.68 405.78,457.24 417.38,451.81 428.58,446.43 439.40,441.11 449.85,435.87 459.97,430.72 469.76,425.65 479.24,420.67" fill="none" stroke="#8000ff" stroke-width="1.4" stroke-linejoin="round" />
<polyline points="381.26,468.00 393.76,462.89 405.79,457.45 417.38,451.74 428.57,445.79 439.38,439.62 449.83,433.25 459.95,426.69 469.76,419.95 479.27,413.05" fill="none" stroke="#0000ff" stroke-width="1.4" stroke-linejoin="round" />
<polyline points="381.26,468.00 393.74,462.43 405.75,455.96 417.32,448.79 428.49,441.02 439.29,432.72 449.75,423.94 459.90,414.72 469.75,405.09 479.33,395.08" fill="none" stroke="#008000" stroke-width="1.4" stroke-linejoin="round" />
<polyline points="381.26,468.00 393.73,462.05 405.72,454.92 417.28,446.95 428.44,438.31 439.24,429.09 449.71,419.37 459.87,409.20 469.75,398.62 479.36,387.67" fill="none" stroke="#ff8000" stroke-width="1.4" stroke-linejoin="round" />
<polyline points="413.22,479.73 425.66,474.46 437.63,469.40 449.15,464.53 460.25,459.84 470.95,455.31 481.26,450.95 491.22,446.74 500.83,442.68 510.12,438.75" fill="none" stroke="#000000" stroke-width="1.4" stroke-linejoin="round" />
<polyline points="413.22,479.73 425.66,474.46 437.63,469.40 449.15,464.53 460.25,459.84 470.95,455.31 481.26,450.95 491.22,446.74 500.83,442.68 510.12,438.75" fill="none" stroke="#ff00ff" stroke-width="1.4" stroke-linejoin="round" />
<polyline points="413.22,479.73 425.66,474.34 437.63,469.15 449.15,464.17 460.25,459.36 470.95,454.73 481.27,450.26 491.23,445.95 500.84,441.78 510.14,437.76" fill="none" stroke="#00ff00" stroke-width="1.4" stroke-linejoin="round" />
<polyline points="413.22,479.73 425.65,474.00 437.61,468.03 449.13,461.94 460.23,455.80 470.95,449.64 481.30,443.47 491.30,437.31 500.98,431.17 510.35,425.05" fill="none" stroke="#8000ff" stroke-width="1.4" stroke-linejoin="round" />
<polyline points="413.22,479.73 425.65,473.96 437.61,467.99 449.13,461.98 460.24,455.98 470.95,450.01 481.29,444.08 491.29,438.21 500.96,432.41 510.32,426.68" fill="none" stroke="#0000ff" stroke-width="1.4" stroke-linejoin="round" />
<polyline points="413.22,479.73 425.65,474.00 437.61,467.58 449.12,460.49 460.22,452.77 470.95,444.44 481.33,435.51 491.40,426.01 501.17,415.96 510.67,405.36" fill="none" stroke="#008000" stroke-width="1.4" stroke-linejoin="round" />
<polyline points="413.22,479.73 425.65,473.92 437.60,467.27 449.11,459.81 460.22,451.57 470.95,442.59 481.34,432.88 491.43,422.47 501.22,411.38 510.76,399.61" fill="none" stroke="#ff8000" stroke-width="1.4" stroke-linejoin="round" />
<polyline points="448.24,492.58 460.56,486.80 472.38,481.26 483.75,475.94 494.67,470.82 505.18,465.89 515.30,461.15 525.06,456.57 534.46,452.17 543.54,447.91" fill="none" stroke="#000000" stroke-width="1.4" stroke-linejoin="round" />
<polyline points="448.24,492.58 460.56,486.80 472.38,481.26 483.75,475.94 494.67,470.82 505.18,465.89 515.30,461.15 525.06,456.57 534.46,452.17 543.54,447.91" fill="none" stroke="#ff00ff" stroke-width="1.4" stroke-linejoin="round" />
<polyline points="448.24,492.58 460.56,486.61 472.38,480.88 483.75,475.37 494.68,470.07 505.19,464.98 515.32,460.07 525.08,455.34 534.50,450.77 543.58,446.37" fill="none" stroke="#00ff00" stroke-width="1.4" stroke-linejoin="round" />
<polyline points="448.24,492.58 460.56,485.92 472.39,479.53 483.76,473.38 494.70,467.47 505.24,461.77 515.46,452.82 525.32,444.89 534.86,437.22 544.09,429.81" fill="none" stroke="#8000ff" stroke-width="1.4" stroke-linejoin="round" />
<polyline points="448.24,492.58 460.56,486.37 472.39,479.79 483.76,472.93 494.72,465.85 505.29,458.59 515.49,451.17 525.35,443.60 534.89,435.92 544.14,428.11" fill="none" stroke="#0000ff" stroke-width="1.4" stroke-linejoin="round" />
<polyline points="448.24,492.58 460.56,486.39 472.39,479.62 483.77,472.31 494.73,464.47 505.32,456.12 515.56,447.29 525.48,437.99 535.10,428.23 544.44,418.03" fill="none" stroke="#008000" stroke-width="1.4" stroke-linejoin="round" />
<polyline points="448.24,492.58 460.56,486.33 472.39,479.39 483.77,471.79 494.74,463.55 505.34,454.72 515.60,445.29 525.54,435.30 535.19,424.76 544.58,413.68" fill="none" stroke="#ff8000" stroke-width="1.4" stroke-linejoin="round" />
<polyline points="486.80,506.72 498.90,500.36 510.50,494.27 521.61,488.42 532.28,482.81 542.53,477.43 552.38,472.25 561.86,467.27 570.98,462.47 579.77,457.85" fill="none" stroke="#000000" stroke-width="1.4" stroke-linejoin="round" />
<polyline points="486.80,506.72 498.90,500.36 510.50,494.27 521.61,488.42 532.28,482.81 542.53,477.43 552.38,472.25 561.86,467.27 570.98,462.47 579.77,457.85" fill="none" stroke="#ff00ff" stroke-width="1.4" stroke-linejoin="round" />
<polyline points="486.80,506.72 498.91,499.95 510.51,493.47 521.64,487.24 532.32,481.27 542.59,475.53 552.46,470.00 561.96,464.69 571.10,459.58 579.92,454.65" fill="none" stroke="#00ff00" stroke-width="1.4" stroke-linejoin="round" />
<polyline points="486.80,506.72 498.92,499.07 510.54,491.74 521.69,484.70 532.41,477.93 542.71,471.43 553.13,450.48 563.01,437.00 572.60,423.94 581.89,411.27" fill="none" stroke="#8000ff" stroke-width="1.4" stroke-linejoin="round" />
<polyline points="486.80,506.72 498.93,497.81 510.58,489.25 521.81,479.37 532.63,469.38 543.06,459.76 553.13,450.48 563.09,434.98 572.77,419.92 582.17,405.30" fill="none" stroke="#0000ff" stroke-width="1.4" stroke-linejoin="round" />
<polyline points="486.80,506.72 498.92,498.89 510.59,488.46 521.89,475.55 532.87,460.25 543.58,442.61 554.08,422.67 564.41,400.46 574.61,375.98 584.72,349.23" fill="none" stroke="#008000" stroke-width="1.4" stroke-linejoin="round" />
<polyline points="486.80,506.72 498.93,498.20 510.63,486.33 521.98,471.52 533.03,454.00 543.85,433.90 554.47,411.33 564.95,386.35 575.33,359.00 585.63,329.28" fill="none" stroke="#ff8000" stroke-width="1.4" stroke-linejoin="round" />
<text transform="translate(356.5,472.0) skewY(-16.0)" font-size="11" text-anchor="middle" y="3.9">0.0E+0</text>
<text transform="translate(355.6,445.2) skewY(-14.4)" font-size="11" text-anchor="middle" y="3.9">2.0E−5</text>
<text transform="translate(354.5,417.0) skewY(-12.8)" font-size="11" text-anchor="middle" y="3.9">4.0E−5</text>
<text transform="translate(352.5,385.8) skewY(-11.2)" font-size="11" text-anchor="middle" y="3.9">6.0E−5</text>
<text transform="translate(351.2,356.0) skewY(-9.6)" font-size="11" text-anchor="middle" y="3.9">8.0E−5</text>
<text transform="translate(350.5,325.0) skewY(-8.0)" font-size="11" text-anchor="middle" y="3.9">1.0E−4</text>
<text transform="translate(316.80,312.40) scale(1,1.07)" font-size="18.5" text-anchor="start" fill="#000" >(d)</text>
<text transform="translate(320.5,342.0) rotate(87)" font-size="13.4">Dimensionless power</text>
<text transform="matrix(-0.9334,0.3565,-0.8075,-0.2976,376.79,467.53)" font-size="10" fill="#000">1</text>
<text transform="matrix(-0.9303,0.3897,-0.8831,-0.3255,408.47,479.20)" font-size="10" fill="#000">2</text>
<text transform="matrix(-0.9223,0.4278,-0.9698,-0.3575,443.20,492.00)" font-size="10" fill="#000">3</text>
<text transform="matrix(-0.9079,0.4718,-1.0700,-0.3944,481.42,506.09)" font-size="10" fill="#000">4</text>
<text transform="matrix(1.0936,0.3985,-0.8913,0.4767,494.74,507.62)" font-size="10" fill="#000">0</text>
<text transform="matrix(1.1102,0.4046,-0.8882,0.4839,500.87,509.85)" font-size="10" fill="#000">.</text>
<text transform="matrix(1.1186,0.4076,-0.8865,0.4876,503.96,510.98)" font-size="10" fill="#000">3</text>
<text transform="matrix(1.0806,0.3707,-0.8295,0.4436,514.40,497.10)" font-size="10" fill="#000">0</text>
<text transform="matrix(1.0964,0.3762,-0.8261,0.4501,520.46,499.18)" font-size="10" fill="#000">.</text>
<text transform="matrix(1.1044,0.3789,-0.8244,0.4534,523.51,500.23)" font-size="10" fill="#000">6</text>
<text transform="matrix(1.0668,0.3458,-0.7739,0.4139,532.72,487.31)" font-size="10" fill="#000">0</text>
<text transform="matrix(1.0819,0.3507,-0.7704,0.4197,538.70,489.24)" font-size="10" fill="#000">.</text>
<text transform="matrix(1.0895,0.3532,-0.7685,0.4227,541.71,490.22)" font-size="10" fill="#000">9</text>
<text transform="matrix(1.0524,0.3233,-0.7237,0.3871,549.84,478.15)" font-size="10" fill="#000">1</text>
<text transform="matrix(1.0668,0.3277,-0.7201,0.3923,555.73,479.96)" font-size="10" fill="#000">.</text>
<text transform="matrix(1.0741,0.3299,-0.7182,0.3950,558.70,480.88)" font-size="10" fill="#000">2</text>
<text transform="matrix(1.0377,0.3028,-0.6782,0.3627,565.85,469.59)" font-size="10" fill="#000">1</text>
<text transform="matrix(1.0514,0.3069,-0.6745,0.3675,571.66,471.28)" font-size="10" fill="#000">.</text>
<text transform="matrix(1.0583,0.3089,-0.6726,0.3699,574.59,472.14)" font-size="10" fill="#000">5</text>
<text transform="matrix(1.0227,0.2843,-0.6369,0.3406,580.88,461.55)" font-size="10" fill="#000">1</text>
<text transform="matrix(1.0358,0.2880,-0.6332,0.3450,586.61,463.14)" font-size="10" fill="#000">.</text>
<text transform="matrix(1.0424,0.2898,-0.6313,0.3472,589.49,463.94)" font-size="10" fill="#000">8</text>
<text transform="matrix(0.8189,0.3160,-0.9771,0.3784,365.92,475.30)" font-size="10" fill="#000">N</text>
<text transform="matrix(0.8333,0.3215,-0.9771,0.3850,371.89,477.60)" font-size="10" fill="#000">u</text>
<text transform="matrix(0.8446,0.3259,-0.9770,0.3902,376.55,479.40)" font-size="10" fill="#000">m</text>
<text transform="matrix(0.8621,0.3326,-0.9766,0.3982,383.66,482.14)" font-size="10" fill="#000">b</text>
<text transform="matrix(0.8740,0.3372,-0.9762,0.4037,388.49,484.01)" font-size="10" fill="#000">e</text>
<text transform="matrix(0.8862,0.3419,-0.9758,0.4093,393.38,485.89)" font-size="10" fill="#000">r</text>
<text transform="matrix(0.8999,0.3472,-0.9751,0.4156,398.84,488.00)" font-size="10" fill="#000">o</text>
<text transform="matrix(0.9126,0.3521,-0.9744,0.4215,403.88,489.94)" font-size="10" fill="#000">f</text>
<text transform="matrix(0.9256,0.3571,-0.9736,0.4274,408.99,491.91)" font-size="10" fill="#000">t</text>
<text transform="matrix(0.9322,0.3597,-0.9731,0.4305,411.57,492.91)" font-size="10" fill="#000">h</text>
<text transform="matrix(0.9457,0.3649,-0.9721,0.4366,416.79,494.92)" font-size="10" fill="#000">e</text>
<text transform="matrix(0.9664,0.3729,-0.9704,0.4462,424.76,498.00)" font-size="10" fill="#000">o</text>
<text transform="matrix(0.9805,0.3783,-0.9690,0.4527,430.17,500.09)" font-size="10" fill="#000">s</text>
<text transform="matrix(0.9936,0.3834,-0.9677,0.4587,435.11,501.99)" font-size="10" fill="#000">c</text>
<text transform="matrix(1.0068,0.3885,-0.9662,0.4648,440.11,503.92)" font-size="10" fill="#000">i</text>
<text transform="matrix(1.0128,0.3908,-0.9656,0.4675,442.35,504.79)" font-size="10" fill="#000">l</text>
<text transform="matrix(1.0189,0.3931,-0.9648,0.4703,444.61,505.66)" font-size="10" fill="#000">l</text>
<text transform="matrix(1.0250,0.3955,-0.9641,0.4731,446.88,506.54)" font-size="10" fill="#000">a</text>
<text transform="matrix(1.0405,0.4015,-0.9621,0.4802,452.62,508.75)" font-size="10" fill="#000">t</text>
<text transform="matrix(1.0483,0.4045,-0.9611,0.4838,455.53,509.87)" font-size="10" fill="#000">o</text>
<text transform="matrix(1.0644,0.4107,-0.9589,0.4912,461.40,512.14)" font-size="10" fill="#000">r</text>
<text transform="matrix(0.9148,-0.5303,1.2449,0.4434,528.56,512.98)" font-size="10" fill="#000">R</text>
<text transform="matrix(0.8922,-0.5172,1.2389,0.4323,535.09,509.19)" font-size="10" fill="#000">e</text>
<text transform="matrix(0.8753,-0.5074,1.2342,0.4241,540.00,506.35)" font-size="10" fill="#000">d</text>
<text transform="matrix(0.8588,-0.4978,1.2294,0.4161,544.82,503.55)" font-size="10" fill="#000">u</text>
<text transform="matrix(0.8429,-0.4886,1.2246,0.4083,549.56,500.81)" font-size="10" fill="#000">c</text>
<text transform="matrix(0.8289,-0.4805,1.2203,0.4015,553.74,498.38)" font-size="10" fill="#000">e</text>
<text transform="matrix(0.8138,-0.4717,1.2155,0.3942,558.30,495.74)" font-size="10" fill="#000">d</text>
<text transform="matrix(0.7918,-0.4590,1.2082,0.3835,565.00,491.86)" font-size="10" fill="#000">w</text>
<text transform="matrix(0.7735,-0.4484,1.2018,0.3746,570.65,488.58)" font-size="10" fill="#000">i</text>
<text transform="matrix(0.7680,-0.4452,1.1998,0.3719,572.36,487.59)" font-size="10" fill="#000">n</text>
<text transform="matrix(0.7545,-0.4374,1.1949,0.3654,576.60,485.13)" font-size="10" fill="#000">d</text>
<text transform="matrix(0.7349,-0.4260,1.1875,0.3558,582.81,481.53)" font-size="10" fill="#000">s</text>
<text transform="matrix(0.7235,-0.4194,1.1830,0.3503,586.45,479.42)" font-size="10" fill="#000">p</text>
<text transform="matrix(0.7112,-0.4122,1.1781,0.3443,590.44,477.11)" font-size="10" fill="#000">e</text>
<text transform="matrix(0.6991,-0.4053,1.1731,0.3384,594.37,474.83)" font-size="10" fill="#000">e</text>
<text transform="matrix(0.6874,-0.3985,1.1681,0.3327,598.22,472.60)" font-size="10" fill="#000">d</text>
</svg></body></html>
